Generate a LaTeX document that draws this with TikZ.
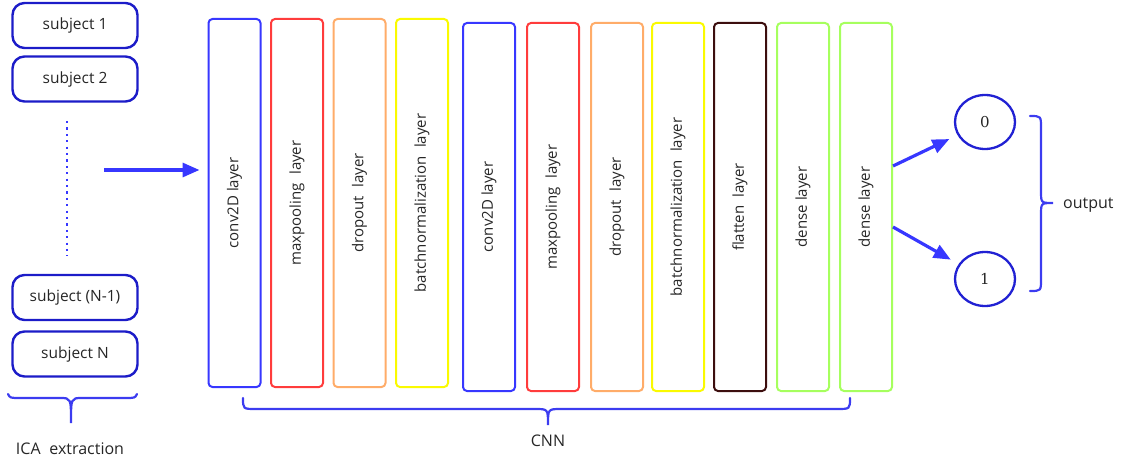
\documentclass[tikz,border=0pt]{standalone}
\usepackage{fontspec}
\setmainfont{Open Sans}
\newfontfamily\numfont{DejaVu Serif}
\usetikzlibrary{shapes.geometric,arrows.meta}

\definecolor{subjblue}{RGB}{28,28,200}
\definecolor{convblue}{RGB}{55,55,255}
\definecolor{poolred}{RGB}{255,60,60}
\definecolor{droporange}{RGB}{255,172,105}
\definecolor{bnyellow}{RGB}{250,250,0}
\definecolor{flatbrown}{RGB}{60,14,14}
\definecolor{densegreen}{RGB}{166,255,94}
\definecolor{bracecol}{RGB}{60,60,240}
\definecolor{txt}{RGB}{38,38,38}

\newcommand{\gap}{\hspace{0.55em}}

\tikzset{
  subjbox/.style={draw=subjblue, line width=2.4pt, rounded corners=12pt,
    minimum width=125pt, minimum height=45pt, inner sep=0pt,
    text=txt, font=\fontsize{15.5}{17}\selectfont},
  layerbox/.style={draw=#1, line width=2pt, rounded corners=4pt, rotate=90,
    minimum width=368pt, minimum height=52pt, inner sep=0pt,
    text=txt, font=\fontsize{15}{17}\selectfont},
  outnode/.style={draw=subjblue!80!convblue, line width=2.3pt, ellipse,
    minimum width=60pt, minimum height=54pt, inner sep=0pt,
    text=txt, font=\numfont\fontsize{15}{17}\selectfont},
  arr/.style={draw=convblue, line width=3.2pt,
    -{Triangle[length=17pt,width=14pt]}},
  bracepath/.style={draw=bracecol, line width=2.2pt, line cap=round},
  caption/.style={text=txt, font=\fontsize{16}{18}\selectfont, inner sep=0pt}
}

\begin{document}
\begin{tikzpicture}[x=1pt,y=-1pt]
\useasboundingbox (0,0) rectangle (1130,462);

% input subjects
\node[subjbox] (s1) at (75,25.5) {subject 1};
\node[subjbox] (s2) at (75,79) {subject 2};
\node[subjbox] (sn1) at (75,297.5) {subject (N-1)};
\node[subjbox] (sn) at (75,354) {subject N};
\draw[draw=convblue, line width=2.2pt, dash pattern=on 2.2pt off 4.2pt]
  (67,121) -- (67,256);

% ICA brace and label
\draw[bracepath] (8,394) .. controls (10,398) .. (21,398) -- (60,398)
  .. controls (71,398) .. (71,423) .. controls (71,398) .. (82,398)
  -- (125,398) .. controls (135,398) .. (137,394);
\node[caption] (ica) at (70,449) {ICA\gap extraction};

% CNN layers (rotated: north is the left side, south the right side)
\foreach \n/\x/\y/\c/\t in {
  1/234.5/203/convblue/conv2D layer,
  2/297/203/poolred/maxpooling\gap layer,
  3/359.5/203/droporange/dropout\gap layer,
  4/422/203/bnyellow/batchnormalization\gap layer,
  5/489/207/convblue/conv2D layer,
  6/553/207/poolred/maxpooling\gap layer,
  7/617/207/droporange/dropout\gap layer,
  8/678/207/bnyellow/batchnormalization\gap layer,
  9/740/207/flatbrown/flatten\gap layer,
  10/803/207/densegreen/dense layer,
  11/866/207/densegreen/dense layer}
  \node[layerbox=\c] (L\n) at (\x,\y) {\t};

% input arrow
\coordinate (in) at (104,170);
\draw[arr, shorten >=8pt] (in) -- (in -| L1.north);

% CNN brace and label
\draw[bracepath] (243,398) .. controls (243,409) .. (256,409) -- (535,409)
  .. controls (548,409) .. (548,425) .. controls (548,409) .. (561,409)
  -- (837,409) .. controls (850,409) .. (850,398);
\node[caption] (cnn) at (548,441) {CNN};

% outputs
\node[outnode] (o0) at (985,122) {0};
\node[outnode] (o1) at (985,279) {1};
\draw[arr, shorten >=9pt] ([yshift=41pt]L11.south) -- (o0);
\draw[arr, shorten >=9pt] ([yshift=-20pt]L11.south) -- (o1);

% output brace and label
\draw[bracepath] (1030,116) .. controls (1041,116) .. (1041,128) -- (1041,191)
  .. controls (1041,203) .. (1053,203) .. controls (1041,203) .. (1041,215)
  -- (1041,279) .. controls (1041,291) .. (1030,291);
\node[caption, anchor=west] (out) at (1063,205) {output};
\end{tikzpicture}
\end{document}
